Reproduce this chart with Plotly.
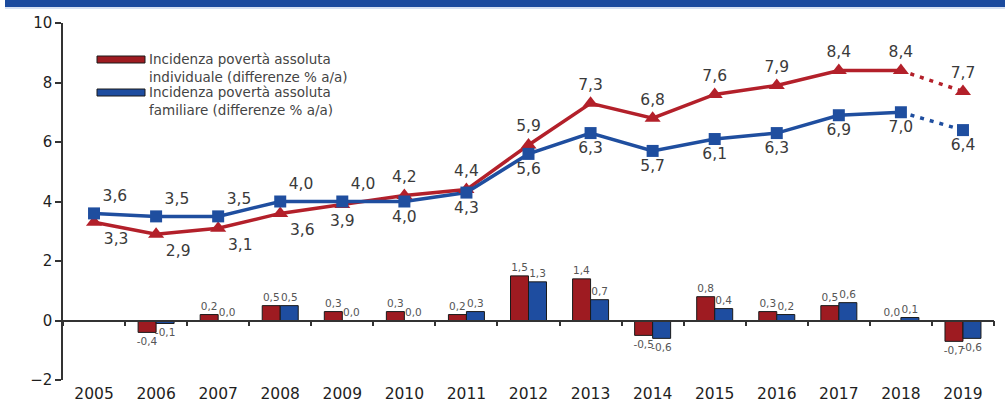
import plotly.graph_objects as go

# ---------------- data ----------------
years = [str(y) for y in range(2005, 2020)]
ind_level = [3.3, 2.9, 3.1, 3.6, 3.9, 4.2, 4.4, 5.9, 7.3, 6.8, 7.6, 7.9, 8.4, 8.4, 7.7]
fam_level = [3.6, 3.5, 3.5, 4.0, 4.0, 4.0, 4.3, 5.6, 6.3, 5.7, 6.1, 6.3, 6.9, 7.0, 6.4]
ind_diff = [None, -0.4, 0.2, 0.5, 0.3, 0.3, 0.2, 1.5, 1.4, -0.5, 0.8, 0.3, 0.5, 0.0, -0.7]
fam_diff = [None, -0.1, 0.0, 0.5, 0.0, 0.0, 0.3, 1.3, 0.7, -0.6, 0.4, 0.2, 0.6, 0.1, -0.6]
legend_labels = [
    "Incidenza povertà assoluta<br>individuale (differenze % a/a)",
    "Incidenza povertà assoluta<br>familiare (differenze % a/a)",
]
y_ticks = [-2, 0, 2, 4, 6, 8, 10]

# ---------------- styling ----------------
W, H = 1005, 404
ML, MR, MT, MB = 63, 11, 23, 24
PW, PH = W - ML - MR, H - MT - MB
FONT = "DejaVu Sans"
RED_LINE, BLUE_LINE = "#B3202A", "#1F4E9F"
RED_BAR, BLUE_BAR = "#9E1B21", "#1E4DA0"
AX = "#333333"
YMIN, YMAX = -2, 10


def px_x(p):
    return (p - ML) / PW


def px_y(p):
    return (H - MB - p) / PH


n = len(years)
red_pos = ["bottom right"] * 4 + ["bottom center"] + ["top center"] * (n - 5)
blue_pos = ["top right"] * 5 + ["bottom center"] * (n - 5)

fig = go.Figure()

# bars (on the axis that sits on zero)
for vals, col in [(ind_diff, RED_BAR), (fam_diff, BLUE_BAR)]:
    fig.add_trace(go.Bar(
        x=years, y=vals, xaxis="x2", yaxis="y",
        marker=dict(color=col, line=dict(color="#1a1a1a", width=1)),
        texttemplate="%{y:.1f}", textposition="outside",
        textfont=dict(family=FONT, size=10.5, color="#555555"),
        constraintext="none", cliponaxis=False, showlegend=False,
        hoverinfo="skip",
    ))

series = [
    (ind_level, RED_LINE, "triangle-up", red_pos, 14),
    (fam_level, BLUE_LINE, "square", blue_pos, 12),
]
# lines: solid up to 2018, dotted 2018 -> 2019
for vals, col, sym, pos, msize in series:
    fig.add_trace(go.Scatter(
        x=years[:n - 1], y=vals[:n - 1], mode="lines",
        line=dict(color=col, width=3.5), showlegend=False, hoverinfo="skip",
    ))
    fig.add_trace(go.Scatter(
        x=years[n - 2:], y=vals[n - 2:], mode="lines",
        line=dict(color=col, width=3.5, dash="4px,6px"),
        showlegend=False, hoverinfo="skip",
    ))
# markers + labels
for vals, col, sym, pos, msize in series:
    fig.add_trace(go.Scatter(
        x=years, y=vals, mode="markers+text",
        marker=dict(symbol=sym, size=msize, color=col),
        texttemplate="%{y:.1f}", textposition=pos,
        textfont=dict(family=FONT, size=15.5, color="#3a3a3a"),
        cliponaxis=False, showlegend=False, hoverinfo="skip",
    ))

shapes = [
    # top banner
    dict(type="rect", xref="paper", yref="paper",
         x0=px_x(5), x1=px_x(W), y0=px_y(7), y1=px_y(0),
         fillcolor="#1B4A9E", line=dict(width=0), layer="above"),
    dict(type="line", xref="paper", yref="paper",
         x0=px_x(5), x1=px_x(W), y0=px_y(8), y1=px_y(8),
         line=dict(color="#AFC3E6", width=1)),
]
annotations = []
# custom legend
for i, (lab, col) in enumerate(zip(legend_labels, [RED_BAR, BLUE_BAR])):
    top = 56 + i * 33
    shapes.append(dict(type="rect", xref="paper", yref="paper",
                       x0=px_x(97), x1=px_x(145), y0=px_y(top + 7), y1=px_y(top),
                       fillcolor=col, line=dict(color="#1a1a1a", width=1)))
    annotations.append(dict(xref="paper", yref="paper", x=px_x(147), y=px_y(top - 7),
                            xanchor="left", yanchor="top", align="left", showarrow=False,
                            text=lab, font=dict(family=FONT, size=13.5, color="#444444")))

fig.update_layout(
    width=W, height=H, autosize=False,
    margin=dict(l=ML, r=MR, t=MT, b=MB, autoexpand=False),
    paper_bgcolor="white", plot_bgcolor="white",
    separators=",.",
    barmode="group", bargap=0.42, bargroupgap=0.0,
    shapes=shapes, annotations=annotations,
    xaxis=dict(type="category", categoryorder="array", categoryarray=years,
               range=[-0.5, len(years) - 0.5], showline=False, showgrid=False,
               zeroline=False, ticks="", ticklabelstandoff=2,
               tickfont=dict(family=FONT, size=15.5, color="#1e1e1e")),
    xaxis2=dict(type="category", categoryorder="array", categoryarray=years,
                range=[-0.5, len(years) - 0.5], overlaying="x", anchor="free",
                position=(0 - YMIN) / (YMAX - YMIN),
                showline=True, linecolor=AX, linewidth=1.5,
                ticks="outside", ticklen=5, tickwidth=1.5, tickcolor=AX,
                tickson="boundaries", showticklabels=False, showgrid=False,
                zeroline=False),
    yaxis=dict(range=[YMIN, YMAX], tickvals=y_ticks, showgrid=False, zeroline=False,
               showline=True, linecolor=AX, linewidth=1.5,
               ticks="outside", ticklen=6, tickwidth=1.5, tickcolor=AX,
               tickfont=dict(family=FONT, size=15, color="#1e1e1e")),
)

fig.write_html("out.html", config={"displayModeBar": False},
               post_script="document.body.style.margin='0px';")
